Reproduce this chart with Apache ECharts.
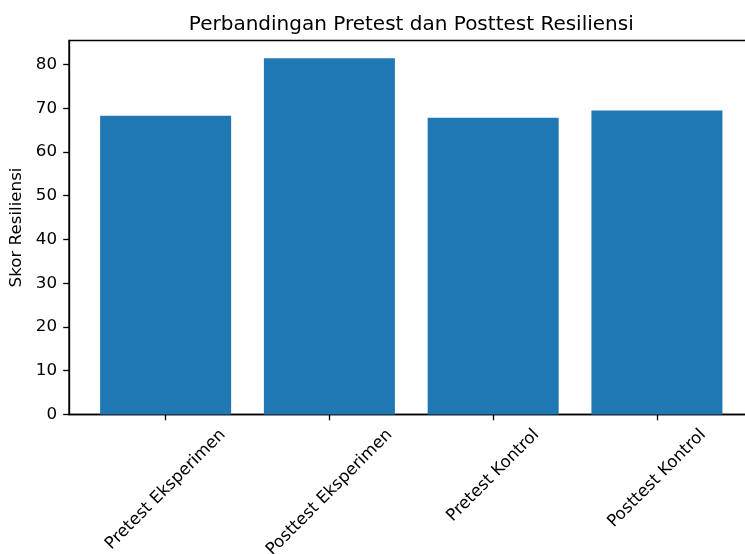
<!DOCTYPE html>
<html>
<head>
<meta charset="utf-8">
<script src="https://cdn.jsdelivr.net/npm/echarts@6/dist/echarts.min.js"></script>
<style>
  html, body { margin: 0; padding: 0; background: #fff; }
  #chart { width: 745px; height: 554px; }
</style>
</head>
<body>
<div id="chart"></div>
<script>
// ---- data ----
const categories = ['Pretest Eksperimen', 'Posttest Eksperimen', 'Pretest Kontrol', 'Posttest Kontrol'];
const values = [68.3, 81.4, 67.8, 69.5];
const yTickValues = [0, 10, 20, 30, 40, 50, 60, 70, 80];
const title = 'Perbandingan Pretest dan Posttest Resiliensi';
const yName = 'Skor Resiliensi';

// ---- layout / style ----
const FONT = 'DejaVu Sans';
const TICK_FS = 16.7;
const xMin = -0.59, xMax = 3.59;
const yMax = 85.47;
const gridLeft = 69, gridTop = 40.5, gridBottom = 139.5;
const unitPx = 163.77;
const gridWidth = (xMax - xMin) * unitPx;
const tickLen = 5.8, tickPad = 5.8;

// measure label widths to mimic matplotlib's centred rotated labels
const ctx = document.createElement('canvas').getContext('2d');
ctx.font = TICK_FS + 'px "' + FONT + '"';
const textH = 17;
const rich = {};
categories.forEach((c, i) => {
  const L = ctx.measureText(c).width;
  const p = (L + textH) / 2;
  rich['l' + i] = {
    fontFamily: FONT, fontSize: TICK_FS, color: '#000',
    padding: [p, p, 0, 0]
  };
});

const chart = echarts.init(document.getElementById('chart'), null, { renderer: 'canvas' });
chart.setOption({
  animation: false,
  backgroundColor: '#fff',
  title: {
    text: title,
    left: gridLeft + gridWidth / 2,
    textAlign: 'center',
    top: 15,
    padding: 0,
    textStyle: { fontFamily: FONT, fontSize: 20, fontWeight: 'normal', color: '#000' }
  },
  grid: {
    left: gridLeft, top: gridTop, width: gridWidth, bottom: gridBottom,
    containLabel: false,
    outerBoundsMode: 'none',
    show: true, borderColor: '#000', borderWidth: 1.33, backgroundColor: 'transparent'
  },
  xAxis: {
    type: 'value',
    min: xMin, max: xMax,
    splitLine: { show: false },
    axisLine: { show: true, onZero: false, lineStyle: { color: '#000', width: 1.33 } },
    axisTick: { show: true, length: tickLen, customValues: categories.map((c, i) => i), lineStyle: { color: '#000', width: 1.33 } },
    axisLabel: {
      customValues: categories.map((c, i) => i),
      rotate: 45,
      align: 'center',
      verticalAlign: 'middle',
      margin: tickLen + tickPad,
      fontFamily: FONT, fontSize: TICK_FS, color: '#000',
      formatter: v => '{l' + Math.round(v) + '|' + categories[Math.round(v)] + '}',
      rich: rich
    }
  },
  yAxis: {
    type: 'value',
    min: 0, max: yMax,
    name: yName,
    nameLocation: 'middle',
    nameGap: 42,
    nameTextStyle: { fontFamily: FONT, fontSize: TICK_FS, color: '#000' },
    splitLine: { show: false },
    axisLine: { show: true, onZero: false, lineStyle: { color: '#000', width: 1.33 } },
    axisTick: { show: true, length: tickLen, customValues: yTickValues, lineStyle: { color: '#000', width: 1.33 } },
    axisLabel: {
      customValues: yTickValues,
      margin: 12,
      fontFamily: FONT, fontSize: TICK_FS, color: '#000'
    }
  },
  series: [{
    type: 'bar',
    data: values.map((v, i) => [i, v]),
    barWidth: 0.8 * unitPx,
    itemStyle: { color: '#1f77b4' }
  }]
});
</script>
</body>
</html>
